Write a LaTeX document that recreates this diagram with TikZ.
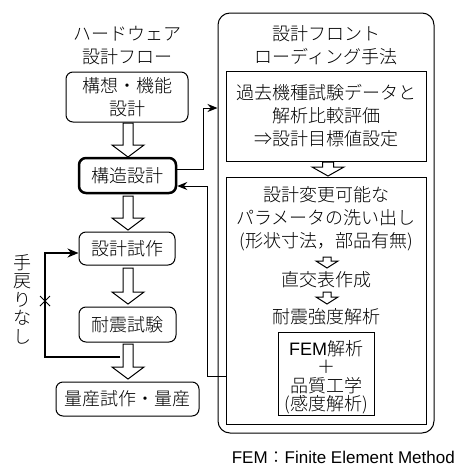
\documentclass[tikz,border=0pt]{standalone}
\usepackage{fontspec}
\setmainfont{Noto Sans CJK JP}[UprightFont={* Light}]
\newfontfamily\latinsans{Liberation Sans}
\usetikzlibrary{arrows.meta,calc}
\newcommand\hollowarrow[6]{%
  \draw[hollow] (#1-#4,#2) -- (#1+#4,#2) -- (#1+#4,#3-#6) -- (#1+#5,#3-#6) -- (#1,#3) -- (#1-#5,#3-#6) -- (#1-#4,#3-#6) -- cycle;}
\begin{document}
\begin{tikzpicture}[x=1pt,y=-1pt,
  every node/.style={font=\fontsize{18pt}{23pt}\selectfont, inner sep=0pt, align=center},
  flowbox/.style={draw, line width=1pt, rounded corners=7pt},
  sqbox/.style={draw, line width=1pt},
  hollow/.style={draw, line width=1pt, fill=white},
  conn/.style={draw, line width=1pt, -{Stealth[length=10pt,width=8pt]}},
  thickconn/.style={draw, line width=2.5pt, -{Stealth[length=11pt,width=9pt]}}]
\useasboundingbox (0,0) rectangle (464,471);
% left column
\node (lt) at (127,46) {ハードウェア\\設計フロー};
\node[flowbox, minimum width=122pt, minimum height=50pt] (b1) at (127,97) {構想・機能\\設計};
\node[flowbox, line width=2.5pt, minimum width=97pt, minimum height=35pt] (b2) at (127.5,175.5) {構造設計};
\node[flowbox, minimum width=96pt, minimum height=33pt] (b3) at (127,248.5) {設計試作};
\node[flowbox, minimum width=97pt, minimum height=35pt] (b4) at (127.5,324.5) {耐震試験};
\node[flowbox, minimum width=143pt, minimum height=34pt] (b5) at (127.5,399) {量産試作・量産};
\hollowarrow{128}{123}{157}{5}{16}{12}
\hollowarrow{128}{196}{230}{5}{16}{12}
\hollowarrow{128}{268}{304}{5}{16}{12}
\hollowarrow{128}{344}{379}{5}{16}{12}
% feedback
\coordinate (fb0) at (120,357);
\coordinate (fb1) at (45,357);
\coordinate (fb2) at (45,253);
\draw[thickconn] (fb0) -- (fb1) -- (fb2) -- (fb2 -| b3.west);
\coordinate (xc) at (45,301);
\draw[line width=1pt] ($(xc)+(-5,-5)$) -- ($(xc)+(5,5)$) ($(xc)+(-5,5)$) -- ($(xc)+(5,-5)$);
\node[font=\fontsize{18pt}{18.5pt}\selectfont] (nb) at (22,299) {手\\戻\\り\\な\\し};
% right column
\node[draw, line width=1pt, rounded corners=12pt, minimum width=216pt, minimum height=420pt] (big) at (326,223) {};
\node (rt) at (326,45) {設計フロント\\ローディング手法};
\node[sqbox, minimum width=200pt, minimum height=90pt] (r1) at (326,116) {過去機種試験データと\\解析比較評価\\⇒設計目標値設定};
\node[sqbox, minimum width=200pt, minimum height=247pt] (r2) at (326,300.5) {};
\hollowarrow{328}{162}{176}{5.5}{16}{9}
\node (t1) at (326,219) {設計変更可能な\\パラメータの洗い出し\\(形状寸法，部品有無)};
\hollowarrow{327}{257}{268}{4}{11}{7}
\node (t2) at (326,280) {直交表作成};
\hollowarrow{327}{292}{304}{4}{11}{7}
\node (t3) at (326,317) {耐震強度解析};
\node[sqbox, minimum width=96pt, minimum height=83pt] (fem) at (326,373.5) {};
\node[font=\fontsize{18pt}{18.5pt}\selectfont] (femt) at (326,377) {{\latinsans FEM}解析\\＋\\品質工学\\(感度解析)};
% connectors
\coordinate (c1) at (203,169);
\coordinate (c2) at (203,108);
\draw[conn] (b2.east |- c1) -- (c1) -- (c2) -- (c2 -| big.west);
\coordinate (d1) at (207,376);
\coordinate (d2) at (207,186);
\draw[conn] (d1 -| r2.west) -- (d1) -- (d2) -- (d2 -| b2.east);
% footnote
\node[font=\fontsize{17pt}{20pt}\selectfont, anchor=east] (fn) at (455,457) {{\latinsans FEM}：{\latinsans Finite Element Method}};
\end{tikzpicture}
\end{document}
